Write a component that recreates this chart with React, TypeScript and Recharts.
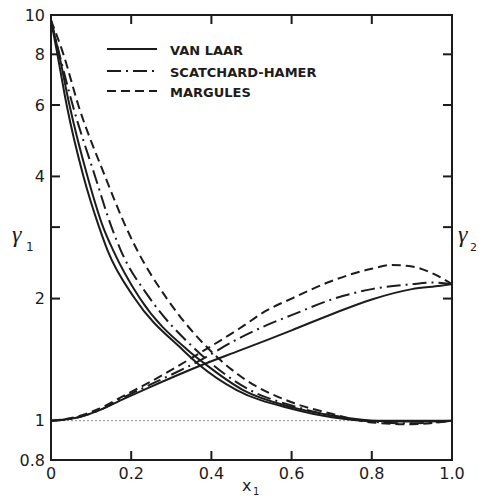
import React from 'react';
import { LineChart, Line, XAxis, YAxis } from 'recharts';

// readings: [x1, gamma]
const vanLaarG1: [number, number][] = [
  [0, 9.7], [0.016, 8], [0.039, 6], [0.081, 4], [0.12, 3], [0.141, 2.63], [0.209, 2.0],
  [0.33, 1.49], [0.367, 1.38], [0.463, 1.19], [0.6, 1.07], [0.7, 1.02],
  [0.8, 1.0], [0.9, 1.0], [1.0, 1.0],
];
const vanLaarG1b: [number, number][] = [
  [0, 9.7], [0.02, 8], [0.046, 6], [0.091, 4], [0.13, 3], [0.155, 2.63], [0.222, 2.0],
  [0.342, 1.49], [0.38, 1.39], [0.479, 1.19], [0.6, 1.08], [0.7, 1.03], [0.8, 1.0],
  [0.9, 0.995], [1.0, 1.0],
];
const scatchardG1: [number, number][] = [
  [0, 9.7], [0.021, 8], [0.054, 6], [0.11, 4], [0.151, 3], [0.174, 2.63], [0.247, 2.0],
  [0.363, 1.49], [0.496, 1.19], [0.6, 1.09], [0.7, 1.03], [0.8, 0.995], [0.9, 0.985], [1.0, 1.0],
];
const margulesG1: [number, number][] = [
  [0, 9.7], [0.031, 8], [0.068, 6], [0.135, 4], [0.187, 3], [0.215, 2.63], [0.289, 2.0],
  [0.397, 1.49], [0.471, 1.29], [0.6, 1.11], [0.7, 1.04], [0.8, 0.99], [0.9, 0.98], [1.0, 1.0],
];
const vanLaarG2: [number, number][] = [
  [0, 1.0], [0.06, 1.015], [0.12, 1.06], [0.18, 1.13], [0.247, 1.21], [0.367, 1.36],
  [0.471, 1.49], [0.538, 1.58], [0.6, 1.67], [0.7, 1.83], [0.8, 1.99], [0.9, 2.11],
  [0.971, 2.15], [1.0, 2.17],
];
const scatchardG2: [number, number][] = [
  [0, 1.0], [0.06, 1.015], [0.12, 1.06], [0.18, 1.14], [0.25, 1.23], [0.367, 1.4],
  [0.471, 1.6], [0.538, 1.72], [0.6, 1.82], [0.7, 1.99], [0.8, 2.11], [0.9, 2.17],
  [0.95, 2.19], [1.0, 2.17],
];
const margulesG2: [number, number][] = [
  [0, 1.0], [0.06, 1.02], [0.12, 1.07], [0.18, 1.15], [0.25, 1.25], [0.367, 1.46],
  [0.471, 1.69], [0.538, 1.87], [0.6, 2.0], [0.7, 2.21], [0.8, 2.37], [0.85, 2.42],
  [0.9, 2.4], [0.95, 2.31], [1.0, 2.17],
];
// ideal-solution line, gamma = 1
const idealLine: [number, number][] = [[0, 1], [1, 1]];

const X_DOMAIN = [0, 1];
const Y_DOMAIN = [0.8, 10];
const xTicks = [0, 0.2, 0.4, 0.6, 0.8, 1.0];
const yTicks = [0.8, 1, 2, 3, 4, 6, 8, 10];
const innerXTicks = [0.2, 0.4, 0.6, 0.8];
const innerYTicks = [2, 3, 4, 6, 8];
const unlabeledY = [3];
const legendLabels = ['VAN LAAR', 'SCATCHARD-HAMER', 'MARGULES'];

const INK = '#1c1c1c';
const FONT = 'DejaVu Sans';
const SOLID = undefined;
const DASHDOT = '14 5 2 5';
const DASHED = '9 5';

// plot box that follows from the margins below
const MARGIN = { top: 15, right: 27, bottom: 8, left: 11 };
const Y_AXIS_W = 40;
const X_AXIS_H = 30;
const W = 479;
const H = 498;
const PLOT = {
  left: MARGIN.left + Y_AXIS_W,
  right: W - MARGIN.right,
  top: MARGIN.top,
  bottom: H - MARGIN.bottom - X_AXIS_H,
};
const TICK_LEN = 9;

// frame ticks sit on the same linear / log mapping as the axes
const xPos = (v: number) =>
  PLOT.left + ((v - X_DOMAIN[0]) / (X_DOMAIN[1] - X_DOMAIN[0])) * (PLOT.right - PLOT.left);
const yPos = (v: number) =>
  PLOT.bottom - (Math.log(v / Y_DOMAIN[0]) / Math.log(Y_DOMAIN[1] / Y_DOMAIN[0])) * (PLOT.bottom - PLOT.top);

const toPoints = (pairs: [number, number][]) => pairs.map(([x, g]) => ({ x, g }));

const series = [
  { key: 'vl1', data: vanLaarG1, dash: SOLID },
  { key: 'vl1b', data: vanLaarG1b, dash: SOLID },
  { key: 'sh1', data: scatchardG1, dash: DASHDOT },
  { key: 'm1', data: margulesG1, dash: DASHED },
  { key: 'vl2', data: vanLaarG2, dash: SOLID },
  { key: 'sh2', data: scatchardG2, dash: DASHDOT },
  { key: 'm2', data: margulesG2, dash: DASHED },
];

const legendDash = [SOLID, DASHDOT, DASHED];

const YTick = (props: any) => {
  const v = props.payload.value;
  const c = props.payload.coordinate ?? props.y;
  if (unlabeledY.includes(v)) return <g />;
  return (
    <text x={PLOT.left - 6} y={c} dy="0.36em" textAnchor="end" fontSize={16} fontFamily={FONT} fill={INK}>
      {String(v)}
    </text>
  );
};

const XTick = (props: any) => {
  const v = props.payload.value;
  const c = props.payload.coordinate ?? props.x;
  return (
    <text x={c} y={PLOT.bottom + 19} textAnchor="middle" fontSize={16} fontFamily={FONT} fill={INK}>
      {v === 0 ? '0' : v.toFixed(1)}
    </text>
  );
};

export default function App() {
  return (
    <div style={{ position: 'absolute', left: 0, top: 0, width: W, height: H, background: '#fff' }}>
      <LineChart width={W} height={H} margin={MARGIN}>
        <XAxis
          xAxisId="b"
          type="number"
          dataKey="x"
          domain={X_DOMAIN}
          ticks={xTicks}
          interval={0}
          height={X_AXIS_H}
          axisLine={false}
          tickLine={false}
          tick={<XTick />}
        />
        <YAxis
          yAxisId="l"
          type="number"
          scale="log"
          domain={Y_DOMAIN}
          allowDataOverflow
          ticks={yTicks}
          interval={0}
          width={Y_AXIS_W}
          axisLine={false}
          tickLine={false}
          tick={<YTick />}
        />
        <Line
          xAxisId="b"
          yAxisId="l"
          data={toPoints(idealLine)}
          dataKey="g"
          type="linear"
          stroke="#8a8a8a"
          strokeWidth={1}
          strokeDasharray="2 2"
          dot={false}
          activeDot={false}
          isAnimationActive={false}
        />
        {series.map((s) => (
          <Line
            key={s.key}
            xAxisId="b"
            yAxisId="l"
            data={toPoints(s.data)}
            dataKey="g"
            type="monotone"
            stroke={INK}
            strokeWidth={2}
            strokeDasharray={s.dash}
            dot={false}
            activeDot={false}
            isAnimationActive={false}
          />
        ))}
      </LineChart>
      <svg width={W} height={H} style={{ position: 'absolute', left: 0, top: 0, pointerEvents: 'none' }}>
        <rect
          x={PLOT.left}
          y={PLOT.top}
          width={PLOT.right - PLOT.left}
          height={PLOT.bottom - PLOT.top}
          fill="none"
          stroke={INK}
          strokeWidth={2}
        />
        {innerXTicks.map((v) => (
          <g key={`x${v}`}>
            <line x1={xPos(v)} x2={xPos(v)} y1={PLOT.bottom} y2={PLOT.bottom - TICK_LEN} stroke={INK} strokeWidth={2} />
            <line x1={xPos(v)} x2={xPos(v)} y1={PLOT.top} y2={PLOT.top + TICK_LEN} stroke={INK} strokeWidth={2} />
          </g>
        ))}
        {innerYTicks.map((v) => (
          <g key={`y${v}`}>
            <line x1={PLOT.left} x2={PLOT.left + TICK_LEN} y1={yPos(v)} y2={yPos(v)} stroke={INK} strokeWidth={2} />
            <line x1={PLOT.right} x2={PLOT.right - TICK_LEN} y1={yPos(v)} y2={yPos(v)} stroke={INK} strokeWidth={2} />
          </g>
        ))}
        {legendLabels.map((label, i) => {
          const y = [49, 71, 91][i];
          return (
            <g key={label}>
              <line x1={107} x2={157} y1={y} y2={y} stroke={INK} strokeWidth={2} strokeDasharray={legendDash[i]} />
              <text x={170} y={y + 6} fontSize={13} fontWeight="bold" fontFamily={FONT} fill={INK}>
                {label}
              </text>
            </g>
          );
        })}
        <text x={12} y={242} fontSize={24} fontStyle="italic" fontFamily="Liberation Serif" fill={INK}>γ</text>
        <text x={26} y={251} fontSize={12} fontFamily={FONT} fill={INK}>1</text>
        <text x={458} y={242} fontSize={24} fontStyle="italic" fontFamily="Liberation Serif" fill={INK}>γ</text>
        <text x={470} y={251} fontSize={11} fontFamily={FONT} fill={INK}>2</text>
        <text x={242} y={491} fontSize={16} fontFamily={FONT} fill={INK}>x</text>
        <text x={253} y={495} fontSize={10} fontFamily={FONT} fill={INK}>1</text>
      </svg>
    </div>
  );
}
